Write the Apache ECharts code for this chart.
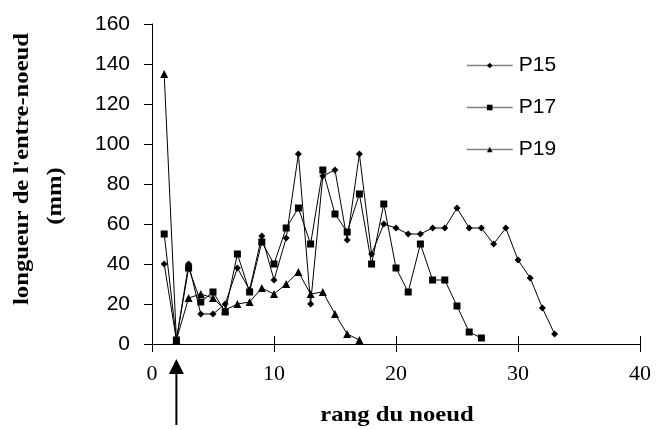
<!DOCTYPE html>
<html>
<head>
<meta charset="utf-8">
<script src="https://cdn.jsdelivr.net/npm/echarts@6/dist/echarts.min.js"></script>
<style>
  html, body { margin: 0; padding: 0; background: #fff; }
  #chart { width: 663px; height: 430px; }
</style>
</head>
<body>
<div id="chart"></div>
<script>
// Data (rang du noeud starts at 1)
var p15 = [40, 2, 40, 15, 15, 20, 38, 27, 54, 32, 53, 95, 20, 84, 87, 52, 95, 45, 60, 58, 55, 55, 58, 58, 68, 58, 58, 50, 58, 42, 33, 18, 5];
var p17 = [55, 2, 38, 21, 26, 16, 45, 26, 51, 40, 58, 68, 50, 87, 65, 56, 75, 40, 70, 38, 26, 50, 32, 32, 19, 6, 3];
var p19 = [135, 2, 23, 25, 23, 17, 20, 21, 28, 25, 30, 36, 25, 26, 15, 5, 2];
var seriesNames = ['P15', 'P17', 'P19'];
var xTicks = [0, 10, 20, 30, 40];
var yTicks = [0, 20, 40, 60, 80, 100, 120, 140, 160];
var arrowNode = 2;

function toPairs(arr) {
  return arr.map(function (v, i) { return [i + 1, v]; });
}

var chart = echarts.init(document.getElementById('chart'), null, { renderer: 'canvas' });

var sans = '"Liberation Sans", Arial, sans-serif';
var serif = '"Liberation Serif", "Times New Roman", serif';

function mkSeries(name, data, symbol, size) {
  return {
    name: name,
    type: 'line',
    data: toPairs(data),
    symbol: symbol,
    symbolSize: size,
    showAllSymbol: true,
    lineStyle: { color: '#000', width: 1 },
    itemStyle: { color: '#000' },
    emphasis: { disabled: true },
    animation: false,
    z: 3
  };
}

var option = {
  animation: false,
  backgroundColor: '#fff',
  grid: { left: 152, right: 23, top: 24, bottom: 86, containLabel: false },
  xAxis: [{
    type: 'value',
    min: xTicks[0], max: xTicks[xTicks.length - 1], interval: 10,
    axisLine: { show: true, lineStyle: { color: '#000', width: 1 } },
    axisTick: { show: true, length: 8, lineStyle: { color: '#000' } },
    axisLabel: { margin: 19, color: '#000', fontFamily: serif, fontSize: 22 },
    splitLine: { show: false }
  }, {
    type: 'value', position: 'bottom', offset: 0,
    min: xTicks[0], max: xTicks[xTicks.length - 1], interval: 10,
    axisLine: { show: false },
    axisTick: { show: true, inside: true, length: 8, lineStyle: { color: '#000' } },
    axisLabel: { show: false },
    splitLine: { show: false }
  }],
  yAxis: {
    type: 'value',
    min: yTicks[0], max: yTicks[yTicks.length - 1], interval: 20,
    axisLine: { show: true, lineStyle: { color: '#000', width: 1 } },
    axisTick: { show: true, length: 8, lineStyle: { color: '#000' } },
    axisLabel: { margin: 22, color: '#000', fontFamily: sans, fontSize: 21 },
    splitLine: { show: false }
  },
  legend: {
    orient: 'vertical',
    left: 466, top: 55,
    padding: 0,
    itemWidth: 46, itemHeight: 7,
    itemGap: 21,
    data: seriesNames,
    textStyle: { color: '#000', fontFamily: sans, fontSize: 21, padding: [0, 0, 0, 1] },
    lineStyle: { color: '#808080', width: 1.5 },
    selectedMode: false
  },
  series: [
    mkSeries(seriesNames[0], p15, 'diamond', 7),
    mkSeries(seriesNames[1], p17, 'rect', 7),
    mkSeries(seriesNames[2], p19, 'triangle', 8)
  ]
};

chart.setOption(option);

var ax = chart.convertToPixel({ xAxisIndex: 0 }, arrowNode);
chart.setOption({
  graphic: [
    {
      type: 'text', x: 22, y: 169, rotation: Math.PI / 2, scaleX: 1.12,
      style: { text: "longueur de l'entre-noeud", font: 'bold 22px ' + serif, fill: '#000', align: 'center', verticalAlign: 'middle' }
    },
    {
      type: 'text', x: 55, y: 196, rotation: Math.PI / 2, scaleX: 1.12,
      style: { text: '(mm)', font: 'bold 22px ' + serif, fill: '#000', align: 'center', verticalAlign: 'middle' }
    },
    {
      type: 'text', x: 397, y: 415, scaleX: 1.12,
      style: { text: 'rang du noeud', font: 'bold 22px ' + serif, fill: '#000', align: 'center', verticalAlign: 'middle' }
    },
    {
      type: 'line', shape: { x1: ax, y1: 372, x2: ax, y2: 425 },
      style: { stroke: '#000', lineWidth: 2 }
    },
    {
      type: 'polygon', shape: { points: [[ax, 359], [ax - 7.5, 374], [ax + 7.5, 374]] },
      style: { fill: '#000' }
    }
  ]
});
</script>
</body>
</html>
